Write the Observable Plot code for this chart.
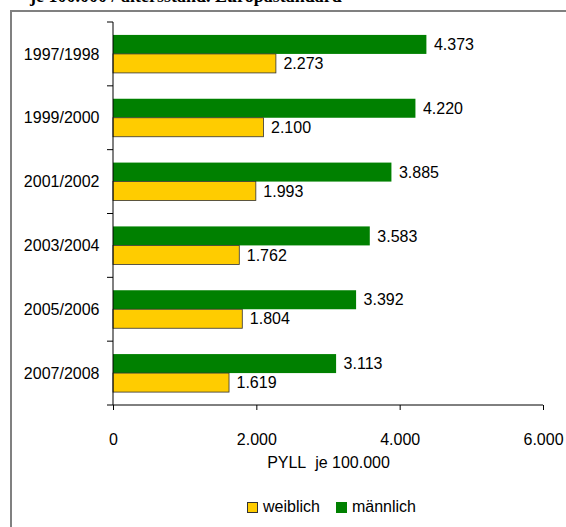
<!DOCTYPE html>
<html>
<head>
<meta charset="utf-8">
<script src="https://cdn.jsdelivr.net/npm/d3@7"></script>
<script src="https://cdn.jsdelivr.net/npm/@observablehq/plot@0.6"></script>
<style>
  html, body { margin: 0; padding: 0; background: #fff; }
  body { position: relative; width: 566px; height: 527px; overflow: hidden; font-family: "Liberation Sans", Arial, sans-serif; }
  #title { position: absolute; left: 30px; top: -13px; font: bold 18px/18px "Liberation Serif", "Times New Roman", serif; white-space: nowrap; color: #000; }
  #chart { position: absolute; left: 0; top: 0; }
  #border { position: absolute; left: 10px; top: 10px; width: 700px; height: 700px; border-left: 2px solid #808080; border-top: 2px solid #808080; pointer-events: none; }
  #legend { position: absolute; left: 247px; top: 498px; display: flex; align-items: center; font-size: 16px; color: #000; }
  .sw { width: 9px; height: 9px; border: 1px solid #333; display: inline-block; margin-right: 5px; }
  .item { display: flex; align-items: center; margin-right: 16px; }
</style>
</head>
<body>
<div id="title">je 100.000 / altersstand. Europastandard</div>
<div id="chart"></div>
<div id="border"></div>
<div id="legend"></div>
<script>
const periods = ["1997/1998", "1999/2000", "2001/2002", "2003/2004", "2005/2006", "2007/2008"];
const maennlich = [4373, 4220, 3885, 3583, 3392, 3113];
const weiblich = [2273, 2100, 1993, 1762, 1804, 1619];
const xTicks = [0, 2000, 4000, 6000];
const seriesNames = ["weiblich", "männlich"];
const seriesColors = ["#FFCC00", "#008000"];
const xLabel = "PYLL\u00a0 je 100.000";

const W = 566, H = 480;
const mTop = 22, mBottom = 75, mLeft = 113, mRight = 23;
const band = (H - mTop - mBottom) / periods.length;
const barH = 19;
const outer = (band - 2 * barH) / 2;

const de = d3.formatLocale({decimal: ",", thousands: ".", grouping: [3], currency: ["", "€"]});
const fmt = de.format(",d");

const dataM = periods.map((p, i) => ({period: p, value: maennlich[i], sex: "männlich"}));
const dataW = periods.map((p, i) => ({period: p, value: weiblich[i], sex: "weiblich"}));

function axisLines(index, scales, values, dims) {
  const y = scales.y, x = scales.x;
  const bw = y.bandwidth();
  const g = d3.create("svg:g").attr("stroke", "#000").attr("stroke-width", 1).attr("fill", "none");
  const x0 = x(0);
  const yTop = y(periods[0]);
  const yBot = y(periods[periods.length - 1]) + bw;
  const bounds = periods.map(p => y(p)).concat([yBot]);
  g.append("line").attr("x1", x0).attr("x2", x0).attr("y1", yTop).attr("y2", yBot);
  g.append("line").attr("x1", x0).attr("x2", x(xTicks[xTicks.length - 1])).attr("y1", yBot).attr("y2", yBot);
  for (const b of bounds) {
    g.append("line").attr("x1", x0 - 6).attr("x2", x0).attr("y1", b).attr("y2", b);
  }
  return g.node();
}

const chart = Plot.plot({
  width: W,
  height: H,
  marginTop: mTop,
  marginBottom: mBottom,
  marginLeft: mLeft,
  marginRight: mRight,
  style: {fontFamily: "'Liberation Sans', Arial, sans-serif", fontSize: "16px", color: "#000", background: "transparent"},
  x: {domain: [0, 6000], label: null, axis: null},
  y: {domain: periods, padding: 0, round: false, label: null, axis: null},
  marks: [
    Plot.barX(dataM, {y: "period", x: "value", fill: seriesColors[1], insetTop: outer, insetBottom: outer + barH}),
    Plot.barX(dataW, {y: "period", x: "value", fill: seriesColors[0], stroke: "#333", strokeWidth: 0.8, insetTop: outer + barH, insetBottom: outer}),
    Plot.text(dataM, {y: "period", x: "value", text: d => fmt(d.value), dx: 7, dy: -barH / 2, textAnchor: "start", fill: "#000"}),
    Plot.text(dataW, {y: "period", x: "value", text: d => fmt(d.value), dx: 7, dy: barH / 2, textAnchor: "start", fill: "#000"}),
    Plot.axisY({tickSize: 0, tickPadding: 14, label: null}),
    Plot.axisX(xTicks, {tickSize: 5, tickPadding: 23, tickFormat: d => fmt(d), label: null}),
    Plot.text([xLabel], {frameAnchor: "bottom", dy: 57, lineAnchor: "middle", text: d => d, fill: "#000"}),
    axisLines
  ]
});
document.getElementById("chart").appendChild(chart);

const legend = document.getElementById("legend");
seriesNames.forEach((name, i) => {
  const item = document.createElement("span");
  item.className = "item";
  const sw = document.createElement("span");
  sw.className = "sw";
  sw.style.background = seriesColors[i];
  if (i === 1) sw.style.borderColor = seriesColors[i];
  item.appendChild(sw);
  item.appendChild(document.createTextNode(name));
  legend.appendChild(item);
});
</script>
</body>
</html>
